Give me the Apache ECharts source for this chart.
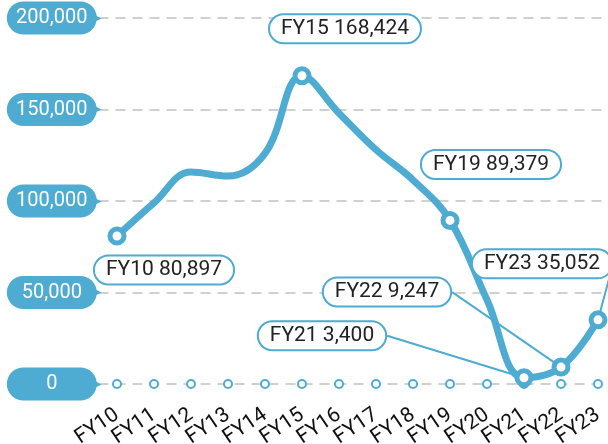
<!DOCTYPE html>
<html>
<head>
<meta charset="utf-8">
<script src="https://cdn.jsdelivr.net/npm/echarts@6/dist/echarts.min.js"></script>
<style>html,body{margin:0;padding:0;background:#fff}#c{width:608px;height:444px}</style>
</head>
<body>
<div id="c"></div>
<script>
var categories = ['FY10','FY11','FY12','FY13','FY14','FY15','FY16','FY17','FY18','FY19','FY20','FY21','FY22','FY23'];
var values = [80897, 99000, 115800, 113600, 126000, 168424, 148000, 128000, 111500, 89379, 46000, 3400, 9247, 35052];
var labeledIdx = [0, 5, 9, 11, 12, 13];
var baseline = [0,0,0,0,0,0,0,0,0,0,0,0,0,0];
var yTicks = [0, 50000, 100000, 150000, 200000];

var BLUE = '#4eabd1';
var FONT = 'Roboto';
function fmt(v){ return String(v).replace(/\B(?=(\d{3})+(?!\d))/g, ','); }

// label offsets (styling), by data index
var labelShift = {0:[47,62],5:[43,-19],9:[41,-28],11:[-202,-14],12:[-174,-47],13:[-56,-28]};
var withLine = {11:true,12:true,13:true};

var mainData = values.map(function(v,i){
  var on = labeledIdx.indexOf(i) >= 0;
  return {
    value: v,
    symbol: on ? 'circle' : 'none',
    label: {show: on},
    labelLine: {show: !!withLine[i]}
  };
});

var chart = echarts.init(document.getElementById('c'));
chart.setOption({
  animation: false,
  grid: {left: 98.5, right: -8.5, top: 18, bottom: 60, containLabel: false, outerBoundsMode: 'none'},
  xAxis: {
    type: 'category',
    data: categories,
    boundaryGap: true,
    axisLine: {show: false},
    axisTick: {show: false},
    axisLabel: {interval: 0, hideOverlap: false, rotate: 34, margin: 29, color: '#111', fontSize: 21, fontFamily: FONT}
  },
  yAxis: {
    type: 'value',
    min: yTicks[0], max: yTicks[yTicks.length-1], interval: yTicks[1]-yTicks[0],
    axisLine: {show: false},
    axisTick: {show: false},
    splitLine: {lineStyle: {color: '#d0d0d0', width: 2, type: [10, 7]}},
    axisLabel: {
      margin: -3,
      formatter: function(v){ return '{a|' + fmt(v) + '}{b|▶}'; },
      rich: {
        a: {backgroundColor: BLUE, color: '#fff', width: 90, height: 33, lineHeight: 33,
            borderRadius: 17, align: 'center', fontSize: 20, fontFamily: FONT},
        b: {color: BLUE, fontSize: 10, fontFamily: 'DejaVu Sans', padding: [0,0,0,-3]}
      }
    }
  },
  series: [
    {
      type: 'line',
      data: baseline,
      symbol: 'circle',
      symbolSize: 8,
      lineStyle: {width: 0},
      itemStyle: {color: '#fff', borderColor: BLUE, borderWidth: 2},
      silent: true,
      z: 1
    },
    {
      type: 'line',
      data: mainData,
      smooth: 0.4,
      symbolSize: 14,
      showAllSymbol: true,
      lineStyle: {color: BLUE, width: 7},
      itemStyle: {color: '#fff', borderColor: BLUE, borderWidth: 5},
      z: 3,
      label: {
        position: 'top',
        distance: 5,
        formatter: function(p){ return categories[p.dataIndex] + ' ' + fmt(p.value); },
        color: '#222',
        fontSize: 21,
        fontFamily: FONT,
        backgroundColor: '#fff',
        borderColor: BLUE,
        borderWidth: 2,
        borderRadius: 14,
        padding: [3, 11, 3, 11]
      },
      labelLine: {
        smooth: 0.5,
        lineStyle: {color: BLUE, width: 2}
      },
      labelLayout: function(params){
        var s = labelShift[params.dataIndex];
        if (!s) return {};
        return {dx: s[0], dy: s[1]};
      }
    }
  ]
});
</script>
</body>
</html>
